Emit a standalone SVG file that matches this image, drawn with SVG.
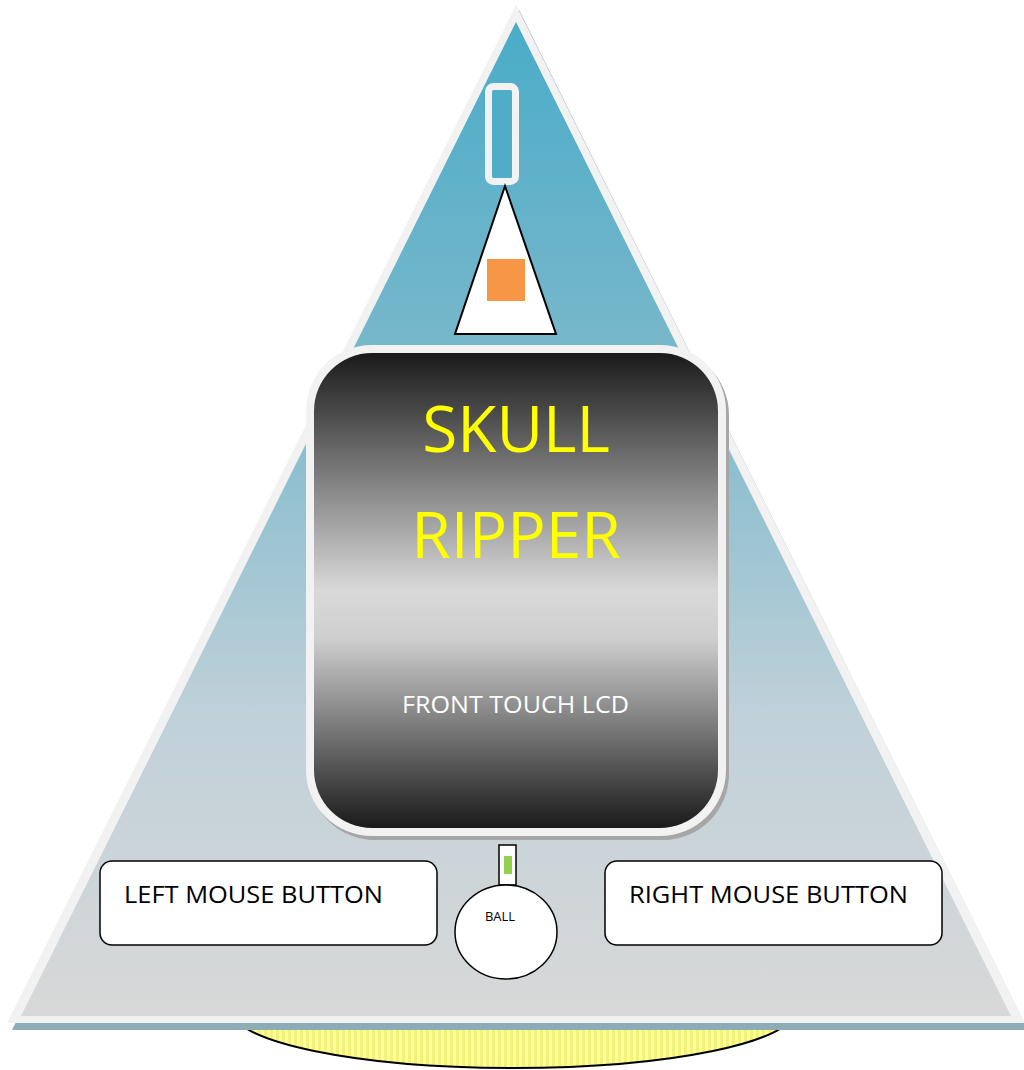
<svg xmlns="http://www.w3.org/2000/svg" width="1024" height="1070" viewBox="0 0 1024 1070">
<defs>
<linearGradient id="triG" x1="0" y1="0" x2="0" y2="1">
<stop offset="0" stop-color="#4aacc8"/>
<stop offset="0.35" stop-color="#7bb8cb"/>
<stop offset="0.7" stop-color="#c0d1d9"/>
<stop offset="1" stop-color="#d8d8d8"/>
</linearGradient>
<linearGradient id="lcdG" x1="0" y1="0" x2="0" y2="1">
<stop offset="0" stop-color="#1a1a1a"/>
<stop offset="0.5" stop-color="#d9d9d9"/>
<stop offset="0.6" stop-color="#cfcfcf"/>
<stop offset="1" stop-color="#1a1a1a"/>
</linearGradient>
<pattern id="stripes" width="6" height="10" patternUnits="userSpaceOnUse">
<rect width="6" height="10" fill="#ffff99"/>
<rect width="3" height="10" fill="#f2f27a"/>
</pattern>
<style>
.btn{fill:#fff;stroke:#000;stroke-width:1.5}
.lbl{font-family:"Open Sans","Liberation Sans",sans-serif;fill:#000}
.big{font-family:"Open Sans","Liberation Sans",sans-serif;fill:#ffff00;font-size:64px;text-anchor:middle}
</style>
</defs>
<g id="base">
<ellipse cx="513.5" cy="1010" rx="282" ry="58" fill="url(#stripes)" stroke="#000" stroke-width="2"/>
</g>
<g id="body">
<polygon points="519,10 1028,1030 12,1030" fill="#8eacb5"/>
<polygon points="516,5 1025,1023 7,1023" fill="#f2f2f2"/>
<polygon points="516,22 1011,1016 21,1016" fill="url(#triG)"/>
</g>
<g id="sensor">
<rect x="490.5" y="89.5" width="27" height="95" rx="5" fill="#3f93a8"/>
<rect x="488.5" y="86.5" width="27" height="95" rx="5" fill="#4eaec8" stroke="#f2f2f2" stroke-width="7"/>
</g>
<g id="nozzle">
<polygon points="505,186 556,334 455,334" fill="#fff" stroke="#000" stroke-width="2" stroke-linejoin="miter"/>
<rect x="487" y="259" width="38" height="42" fill="#f79646"/>
</g>
<g id="lcd">
<rect x="309" y="349" width="420" height="491" rx="66" fill="#a6a6a6"/>
<rect x="306" y="345" width="420" height="491" rx="66" fill="#f2f2f2"/>
<rect x="314" y="353" width="404" height="475" rx="58" fill="url(#lcdG)"/>
<text class="big" x="516" y="452">SKULL</text>
<text class="big" x="516" y="558">RIPPER</text>
<text x="402" y="713" font-family="Open Sans, Liberation Sans, sans-serif" font-size="23" fill="#fff" textLength="227" lengthAdjust="spacingAndGlyphs">FRONT TOUCH LCD</text>
</g>
<g id="left-button">
<rect class="btn" x="100" y="861" width="337" height="84" rx="12"/>
<text class="lbl" x="124" y="903" font-size="24" textLength="259" lengthAdjust="spacingAndGlyphs">LEFT MOUSE BUTTON</text>
</g>
<g id="right-button">
<rect class="btn" x="605" y="861" width="337" height="84" rx="12"/>
<text class="lbl" x="629" y="903" font-size="24" textLength="279" lengthAdjust="spacingAndGlyphs">RIGHT MOUSE BUTTON</text>
</g>
<g id="ball">
<rect x="499" y="845" width="17" height="40" fill="#fff" stroke="#000" stroke-width="1.5"/>
<rect x="504" y="856" width="8" height="18" fill="#92d050"/>
<ellipse cx="506" cy="932" rx="51" ry="47" fill="#fff" stroke="#000" stroke-width="1.5"/>
<text class="lbl" x="500" y="921" font-size="13" text-anchor="middle">BALL</text>
</g>
<g id="connectors"></g>
</svg>
